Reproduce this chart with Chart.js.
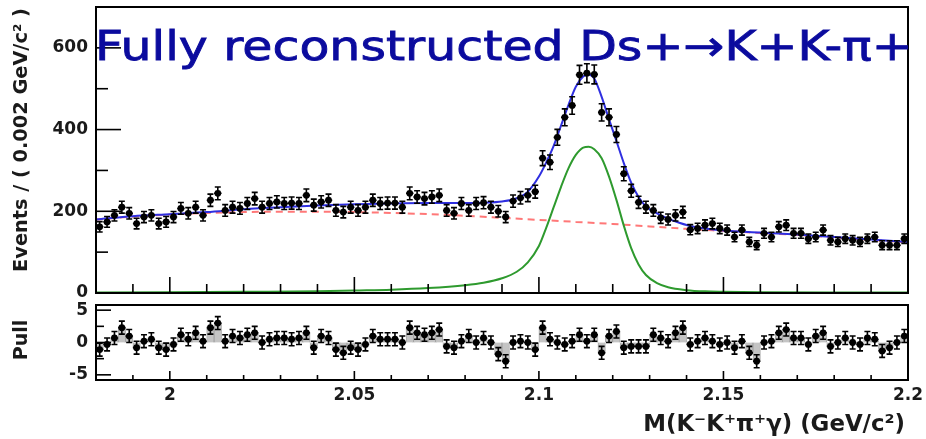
<!DOCTYPE html>
<html><head><meta charset="utf-8">
<script src="https://cdn.jsdelivr.net/npm/chart.js@4.4.1/dist/chart.umd.min.js"></script>
<style>
html,body{margin:0;padding:0;background:#fff;width:926px;height:439px;overflow:hidden;}
#c1{position:absolute;left:0;top:0;}
#c2{position:absolute;left:0;top:300px;}
</style></head><body>
<canvas id="c1" width="926" height="300"></canvas>
<canvas id="c2" width="926" height="139"></canvas>
<script>
// ---- binning (categories) ----
const binLow = 1.98, binWidth = 0.002, nBins = 110;
const binCenters = Array.from({length:nBins}, (_, i) => +(binLow + (i + 0.5) * binWidth).toFixed(4));

// ---- events per bin ----
const counts = [
 162,174,190,210,195,170,186,190,170,174,
 186,207,195,210,190,227,244,202,210,207,
 219,231,210,219,223,219,220,219,239,215,
 223,227,202,198,210,202,210,227,219,220,
 220,210,244,235,231,235,239,202,195,219,
 202,219,221,210,200,186,225,233,239,248,
 330,320,381,430,459,534,538,535,442,430,
 388,292,250,222,210,202,184,180,190,198,
 155,158,166,170,158,154,137,154,125,117,
 146,137,162,166,146,146,133,137,154,129,
 125,133,129,125,133,137,117,117,117,133
];

// ---- pulls per bin ----
const pulls = [
 -1.1,-0.3,0.7,2.3,1.0,-0.8,0.2,0.5,-0.8,-1.1,
 -0.3,1.2,0.5,1.5,0.2,2.3,3.0,0.2,1.0,0.7,
 1.2,1.5,0.0,0.5,0.7,0.7,0.5,0.7,1.5,-0.8,
 1.0,0.7,-1.1,-1.6,-0.8,-1.1,-0.3,1.0,0.5,0.5,
 0.5,0.0,2.3,1.5,1.2,1.5,2.0,-0.6,-0.8,0.2,
 1.0,0.0,0.7,0.0,-1.8,-2.9,0.0,0.2,0.0,-1.1,
 2.3,0.5,0.0,-0.3,0.2,1.2,0.2,1.2,-1.6,1.0,
 1.7,-0.8,-0.6,-0.6,-0.6,1.2,0.7,0.2,1.5,2.3,
 -0.3,0.2,0.7,0.2,-0.3,0.0,-0.8,0.2,-1.6,-2.9,
 0.0,0.2,1.5,2.0,0.7,0.7,-0.3,1.0,1.5,-0.6,
 0.0,0.7,0.0,-0.3,0.7,0.5,-1.3,-0.8,0.0,1.0
];

// ---- fit curves ----
const totalX = [1.98,1.99,2.00,2.01,2.02,2.03,2.04,2.05,2.06,2.07,2.08,2.085,2.09,2.094,2.097,2.100,2.102,2.104,2.106,2.108,2.110,2.112,2.1135,2.115,2.117,2.119,2.121,2.123,2.125,2.127,2.129,2.132,2.135,2.138,2.142,2.15,2.16,2.17,2.18,2.19,2.20];
const totalY = [180,188,193,198,205,210,214,217,219,220,220,221,224,232,248,285,320,360,410,460,505,530,535,525,480,425,372,318,270,235,212,195,182,172,162,153,148,143,137,131,125];

const signalX = [1.98,2.00,2.02,2.04,2.05,2.06,2.07,2.08,2.085,2.09,2.094,2.097,2.100,2.102,2.104,2.106,2.108,2.110,2.112,2.1135,2.115,2.117,2.119,2.121,2.123,2.125,2.127,2.129,2.132,2.135,2.14,2.145,2.15,2.16,2.18,2.20];
const signalY = [1,2,3,4,6,8,12,19,25,36,52,75,115,160,210,260,305,338,356,358,352,330,285,228,165,110,70,44,24,14,7,4,3,2,1,1];

const bkgX = [1.98,1.99,2.00,2.01,2.02,2.03,2.04,2.05,2.06,2.07,2.08,2.09,2.10,2.11,2.12,2.13,2.14,2.15,2.16,2.17,2.18,2.19,2.20];
const bkgY = [180,187,192,196,198,199,199,198,196,193,189,184,179,174,169,163,157,152,147,142,136,130,124];

// ---- axis ticks ----
const yTicksTop = [0,200,400,600];
const yTicksPull = [-5,0,5];
const xTickVals = [2.0,2.05,2.1,2.15,2.2];
const xTickLabels = ['2','2.05','2.1','2.15','2.2'];

// ---- texts ----
const titleText = 'Fully reconstructed Ds+\u2192K+K-\u03c0+';
const yTitle = 'Events / ( 0.002 GeV/c\u00b2 )';
const pullTitle = 'Pull';
const xTitle = 'M(K\u207bK\u207a\u03c0\u207a\u03b3) (GeV/c\u00b2)';

const LBL = '#1a1a1a';
const tickFont = {family:'DejaVu Sans', size:17, weight:'bold'};

function pts(xs, ys){ return xs.map((x,i)=>({x, y:ys[i]})); }

function fitText(ctx, text, weight, family, target){
  ctx.font = weight + ' 40px "' + family + '"';
  const w = ctx.measureText(text).width;
  const size = 40 * target / w;
  ctx.font = weight + ' ' + size.toFixed(2) + 'px "' + family + '"';
  return size;
}

function drawFrame(chart, o){
  const {ctx, chartArea:a, scales:{x, y}} = chart;
  ctx.save();
  ctx.strokeStyle = '#000';
  ctx.lineWidth = 1.6;
  for (let k = 0; k <= 22; k++){
    const v = binLow + k * 0.01;
    const px = x.getPixelForValue(v);
    const len = (k % 5 === 2) ? o.xMaj : o.xMin;
    ctx.beginPath(); ctx.moveTo(px, a.bottom); ctx.lineTo(px, a.bottom - len); ctx.stroke();
  }
  for (let k = 0; k < o.yVals.length; k++){
    const v = o.yVals[k];
    const py = y.getPixelForValue(v);
    const len = o.yMajor.includes(v) ? o.yMaj : o.yMin;
    ctx.beginPath(); ctx.moveTo(a.left, py); ctx.lineTo(a.left + len, py); ctx.stroke();
  }
  ctx.lineWidth = 2;
  ctx.strokeRect(a.left, a.top, a.right - a.left, a.bottom - a.top);
  ctx.restore();
}

function drawErrors(chart, ys, errFn, capHalf){
  const {ctx, scales:{x, y}} = chart;
  ctx.save();
  ctx.strokeStyle = '#000';
  ctx.lineWidth = 1.6;
  for (let i = 0; i < ys.length; i++){
    const xc = binCenters[i];
    const e = errFn(ys[i]);
    const px = x.getPixelForValue(xc);
    const pl = x.getPixelForValue(xc - binWidth/2);
    const pr = x.getPixelForValue(xc + binWidth/2);
    const py = y.getPixelForValue(ys[i]);
    const pt = y.getPixelForValue(ys[i] + e);
    const pb = y.getPixelForValue(ys[i] - e);
    ctx.beginPath();
    ctx.moveTo(px, pt); ctx.lineTo(px, pb);
    ctx.moveTo(px - capHalf, pt); ctx.lineTo(px + capHalf, pt);
    ctx.moveTo(px - capHalf, pb); ctx.lineTo(px + capHalf, pb);
    ctx.moveTo(pl, py); ctx.lineTo(pr, py);
    ctx.stroke();
  }
  ctx.restore();
}

const topPlugin = {
  id: 'topDecor',
  afterDatasetsDraw(chart){
    drawErrors(chart, counts, v => Math.sqrt(v), 3);
    drawFrame(chart, {xMaj:16, xMin:9, yMaj:25, yMin:12, yVals:[0,100,200,300,400,500,600,700], yMajor:[0,200,400,600]});
    const ctx = chart.ctx;
    ctx.save();
    ctx.fillStyle = LBL;
    ctx.translate(22, 140);
    ctx.rotate(-Math.PI/2);
    fitText(ctx, yTitle, 'bold', 'DejaVu Sans', 264);
    ctx.textAlign = 'center'; ctx.textBaseline = 'middle';
    ctx.fillText(yTitle, 0, 0);
    ctx.restore();
    ctx.save();
    ctx.fillStyle = '#0b0b9e';
    ctx.strokeStyle = '#0b0b9e';
    ctx.lineWidth = 1;
    ctx.translate(95, 60);
    ctx.scale(1, 0.84);
    fitText(ctx, titleText, 'normal', 'DejaVu Sans', 818);
    ctx.textAlign = 'left'; ctx.textBaseline = 'alphabetic';
    ctx.fillText(titleText, 0, 0);
    ctx.strokeText(titleText, 0, 0);
    ctx.restore();
  }
};

const botPlugin = {
  id: 'botDecor',
  afterDatasetsDraw(chart){
    drawErrors(chart, pulls, () => 1, 3);
    drawFrame(chart, {xMaj:9, xMin:5, yMaj:15, yMin:8, yVals:[-5,-2.5,0,2.5,5], yMajor:[-5,0,5]});
    const ctx = chart.ctx;
    ctx.save();
    ctx.fillStyle = LBL;
    ctx.translate(22, 40);
    ctx.rotate(-Math.PI/2);
    ctx.font = 'bold 19px "DejaVu Sans"';
    ctx.textAlign = 'center'; ctx.textBaseline = 'middle';
    ctx.fillText(pullTitle, 0, 0);
    ctx.restore();
    ctx.save();
    ctx.fillStyle = LBL;
    fitText(ctx, xTitle, 'bold', 'DejaVu Sans', 262);
    ctx.textAlign = 'right'; ctx.textBaseline = 'alphabetic';
    ctx.fillText(xTitle, 905, 131);
    ctx.restore();
  }
};

const commonX = (show, h) => ({
  type:'linear', min:binLow, max:2.2, offset:false, display:show,
  grid:{display:false, drawTicks:false, offset:false}, border:{display:false},
  afterBuildTicks: s => { s.ticks = xTickVals.map(v => ({value:v})); },
  ticks:{display:show, font:tickFont, color:LBL, padding:5, maxRotation:0, autoSkip:false,
         callback:(v) => xTickLabels[xTickVals.findIndex(t => Math.abs(t - v) < 1e-6)]},
  afterFit: s => { s.height = h; s.paddingLeft = 0; s.paddingRight = 0; }
});

const yFit = s => { s.width = 96; s.paddingTop = 0; s.paddingBottom = 0; };

new Chart(document.getElementById('c1'), {
  type:'scatter',
  data:{ datasets:[
    {type:'scatter', data:pts(binCenters, counts), pointRadius:3.4, pointStyle:'circle', backgroundColor:'#000', borderColor:'#000', borderWidth:0},
    {type:'line', data:pts(totalX, totalY), borderColor:'#2f2fe0', borderWidth:2, pointRadius:0, cubicInterpolationMode:'monotone', fill:false},
    {type:'line', data:pts(signalX, signalY), borderColor:'#2e9a2e', borderWidth:2, pointRadius:0, cubicInterpolationMode:'monotone', fill:false},
    {type:'line', data:pts(bkgX, bkgY), borderColor:'#ff7878', borderWidth:2, borderDash:[7,5], pointRadius:0, cubicInterpolationMode:'monotone', fill:false}
  ]},
  options:{
    responsive:false, animation:false, devicePixelRatio:1,
    layout:{padding:{top:7, right:18, left:0, bottom:7}},
    plugins:{legend:{display:false}, tooltip:{enabled:false}},
    scales:{
      x: commonX(false, 0),
      y: {type:'linear', min:0, max:700,
          grid:{display:false, drawTicks:false}, border:{display:false},
          afterBuildTicks: s => { s.ticks = yTicksTop.map(v => ({value:v})); },
          ticks:{font:tickFont, color:LBL, padding:8},
          afterFit: yFit}
    }
  },
  plugins:[topPlugin]
});

new Chart(document.getElementById('c2'), {
  type:'scatter',
  data:{ datasets:[
    {type:'scatter', data:pts(binCenters, pulls), pointRadius:3.4, pointStyle:'circle', backgroundColor:'#000', borderColor:'#000', borderWidth:0},
    {type:'bar', data:pts(binCenters, pulls), backgroundColor:'#c4c4c4', borderColor:'#9a9a9a', borderWidth:0.8, barPercentage:1, categoryPercentage:1, grouped:false}
  ]},
  options:{
    responsive:false, animation:false, devicePixelRatio:1,
    layout:{padding:{top:5, right:18, left:0, bottom:0}},
    plugins:{legend:{display:false}, tooltip:{enabled:false}},
    scales:{
      x: commonX(true, 59),
      y: {type:'linear', min:-5.8, max:5.8,
          grid:{display:false, drawTicks:false}, border:{display:false},
          afterBuildTicks: s => { s.ticks = yTicksPull.map(v => ({value:v})); },
          ticks:{font:tickFont, color:LBL, padding:8},
          afterFit: yFit}
    }
  },
  plugins:[botPlugin]
});
</script>
</body></html>
